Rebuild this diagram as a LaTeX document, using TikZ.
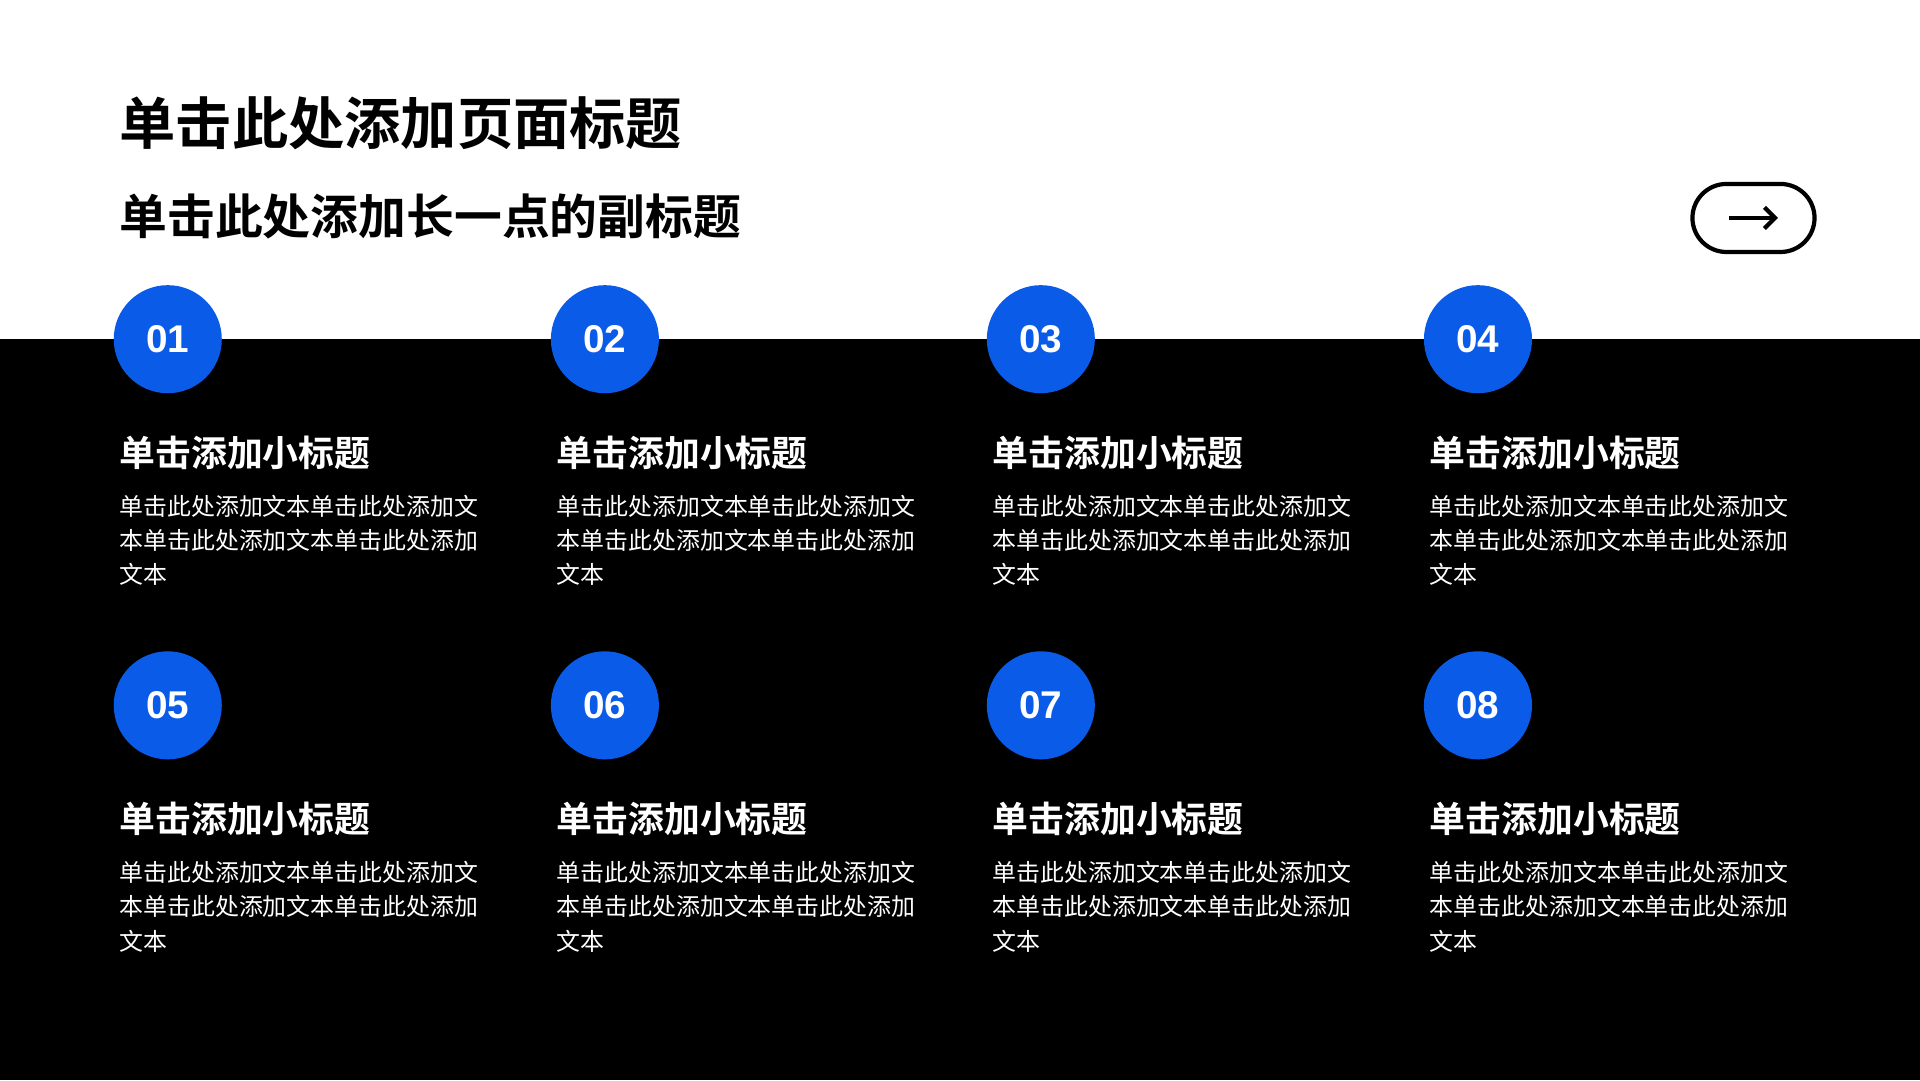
\documentclass[tikz,border=0pt]{standalone}
\usepackage{fontspec}
\setmainfont{Noto Sans CJK SC}
\newfontfamily\cjkbold{Noto Sans CJK SC Bold}
\newfontfamily\numfont{Liberation Sans}
\usetikzlibrary{positioning,arrows.meta}
\definecolor{numblue}{HTML}{0A5CE8}
\tikzset{
    numdot/.style={circle, fill=numblue, minimum size=1.08cm, inner sep=0pt, text=white, font=\numfont\bfseries\fontsize{11}{11}\selectfont},
    itemhead/.style={anchor=west, inner sep=0pt, text=white, font=\cjkbold\fontsize{10.2}{12}\selectfont},
    itembody/.style={anchor=north west, inner sep=0pt, text=white, align=left, font=\fontsize{6.8}{9.7}\selectfont},
  }
\begin{document}
\begin{tikzpicture}[x=0.012245cm, y=-0.012245cm]

% page and dark band
\fill[white] (0,0) rectangle (1568,882);
\fill[black] (0,277) rectangle (1568,882);
\useasboundingbox (0,0) rectangle (1568,882);

% titles
  \node[anchor=west, inner sep=0pt, font=\cjkbold\fontsize{16}{16}\selectfont] (title) at (97,101) {单击此处添加页面标题};
  \node[anchor=west, inner sep=0pt, font=\cjkbold\fontsize{13.6}{14}\selectfont] (subtitle) at (97,177) {单击此处添加长一点的副标题};

% next button
  \node[draw=black, line width=1.2pt, rounded corners=0.34cm, minimum width=1.22cm, minimum height=0.68cm] (btn) at (1432,178) {};
  \coordinate (arrL) at (1412,178);
  \coordinate (arrR) at (1452,178);
  \draw[-{Straight Barb[length=3pt,width=6pt]}, line width=1.2pt] (arrL) -- (arrR);

% items
\foreach \n/\x/\y in {01/137/277, 02/494/277, 03/850/277, 04/1207/277,
                      05/137/576, 06/494/576, 07/850/576, 08/1207/576} {
    \node[numdot] (dot\n) at (\x,\y) {\n};
    \node[itemhead] (head\n) at (\x-40,\y+93) {单击添加小标题};
    \node[itembody] (body\n) at (\x-40,\y+127) {单击此处添加文本单击此处添加文\\本单击此处添加文本单击此处添加\\文本};
}

\end{tikzpicture}
\end{document}
